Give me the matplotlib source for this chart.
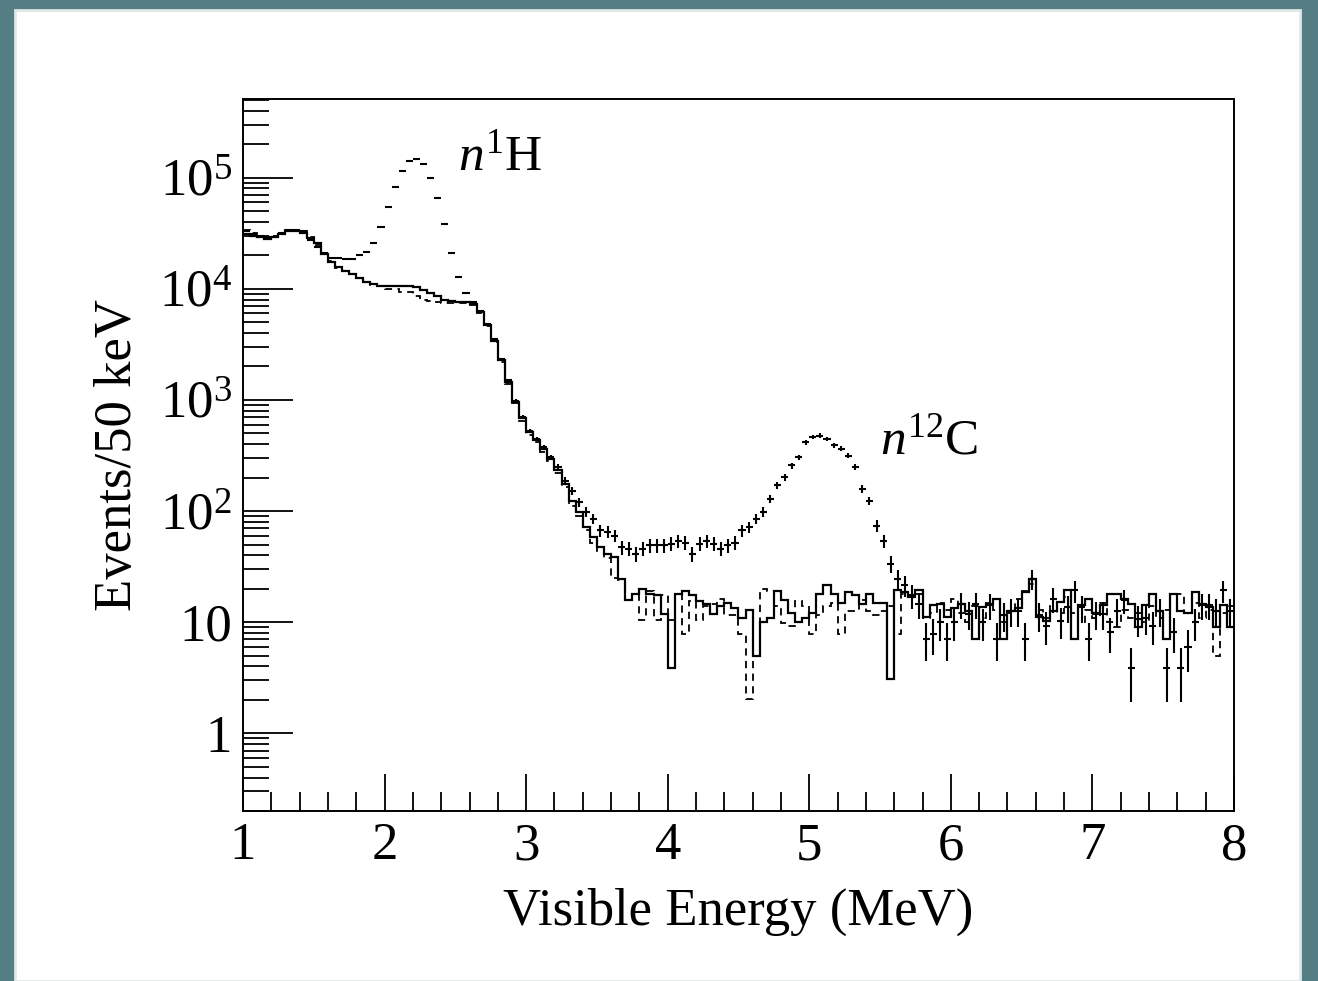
import numpy as np
import matplotlib
matplotlib.use('Agg')
import matplotlib.pyplot as plt
from matplotlib.ticker import MultipleLocator, LogLocator, FuncFormatter, NullFormatter
from matplotlib.patches import Rectangle

plt.rcParams['font.family'] = ['Liberation Serif', 'DejaVu Serif']
plt.rcParams['mathtext.fontset'] = 'custom'
plt.rcParams['mathtext.rm'] = 'Liberation Serif'
plt.rcParams['mathtext.it'] = 'Liberation Serif:italic'

# 50 keV bins from 1 to 8 MeV
edges = np.round(np.arange(1.0, 8.0001, 0.05), 3)
centers = edges[:-1] + 0.025

# solid histogram
solid = [
    3.1e4, 3.0e4, 2.9e4, 2.8e4, 2.9e4, 3.1e4, 3.3e4, 3.3e4, 3.2e4, 2.85e4,
    2.6e4, 2.07e4, 1.75e4, 1.57e4, 1.46e4, 1.37e4, 1.25e4, 1.16e4, 1.1e4, 1.07e4,
    1.07e4, 1.07e4, 1.06e4, 1.06e4, 1.04e4, 9.8e3, 9.2e3, 8.6e3, 8.0e3, 7.7e3,
    7.6e3, 7.6e3, 7.3e3, 6.2e3, 4.7e3, 3.4e3, 2.3e3, 1.45e3, 955, 685,
    513, 432, 363, 295, 235, 176, 124, 98, 72, 58,
    47, 41, 38.5, 24.6, 15.7, 18, 20, 18, 17.6, 11.9,
    3.9, 18, 19, 17.6, 15.5, 14.6, 11.9, 14, 15, 13.3,
    11, 13, 5.0, 10, 11, 19, 15.7, 12, 10, 11,
    12, 18, 21.8, 18, 15, 18.5, 17.6, 14.6, 18, 15,
    15, 3.1, 19.3, 18.5, 17, 19.3, 11.1, 14.2, 14.6, 11.1,
    13.3, 14.6, 12.7, 7.1, 13.6, 14.6, 16.2, 7.1, 12.7, 13.3,
    18.5, 24.6, 11.1, 10.3, 12.7, 15.2, 19.3, 7.1, 14.2, 16,
    12, 14.2, 18, 18, 16, 14.6, 9.0, 14.2, 18, 12.7,
    7.1, 18, 12.7, 12, 18.5, 14.6, 13.6, 9.0, 14.2, 9.0,
]

# dashed histogram
dashed = [
    3.4e4, 3.2e4, 3.0e4, 2.9e4, 3.0e4, 3.2e4, 3.4e4, 3.4e4, 3.3e4, 2.9e4,
    2.5e4, 2.1e4, 1.78e4, 1.55e4, 1.45e4, 1.36e4, 1.24e4, 1.15e4, 1.08e4, 1.05e4,
    1.0e4, 1.0e4, 9.4e3, 9.4e3, 8.6e3, 8.0e3, 7.8e3, 7.6e3, 7.5e3, 7.4e3,
    7.5e3, 7.5e3, 7.2e3, 6.0e3, 4.6e3, 3.3e3, 2.2e3, 1.4e3, 930, 650,
    480, 420, 340, 280, 220, 165, 112, 90, 68, 52,
    44, 38, 25, 24, 16, 18, 10.4, 19, 10.4, 17.6,
    10.4, 18, 7.9, 15.5, 10.4, 14, 14.6, 16.2, 11.5, 11.5,
    7.9, 2.04, 5.0, 20, 19, 14, 9.8, 9.3, 15.5, 14,
    7.9, 11.5, 14, 15, 7.9, 12.7, 12.5, 15.7, 12.5, 11.5,
    12.5, 14, 7.9, 18, 17, 18, 11, 12, 15, 13,
    16, 12, 10, 14, 11, 15, 13, 10, 12, 16,
    19, 22, 13, 11, 14, 12, 17, 12, 10, 13,
    11, 15, 10, 9, 13, 11, 12, 10, 14, 11,
    13, 18, 18, 12, 15, 11, 13, 5.0, 12, 14,
]

# data points (with n-H and n-C capture peaks)
data = [
    3.3e4, 3.1e4, 3.0e4, 2.9e4, 2.95e4, 3.2e4, 3.4e4, 3.4e4, 3.3e4, 2.77e4,
    2.37e4, 2.1e4, 1.9e4, 1.9e4, 1.85e4, 1.85e4, 2.0e4, 2.14e4, 2.6e4, 3.6e4,
    5.4e4, 8.2e4, 1.15e5, 1.41e5, 1.48e5, 1.32e5, 1.0e5, 6.5e4, 3.8e4, 2.1e4,
    1.27e4, 9.2e3, 7.6e3, 6.3e3, 4.8e3, 3.5e3, 2.35e3, 1.5e3, 980, 700,
    530, 445, 375, 305, 250, 188, 153, 120, 98, 85,
    67, 65, 60, 47, 46, 41, 46, 49, 49, 49,
    51, 54, 52, 41, 51, 54, 51, 46, 49, 52,
    67, 72, 85, 98, 129, 170, 202, 257, 305, 417,
    462, 478, 447, 389, 363, 316, 248, 159, 124, 74,
    54, 33.5, 24.6, 21.4, 17.4, 14.6, 7.1, 7.9, 10, 7.1,
    10, 14.6, 11.9, 14.6, 10, 14.2, 7.1, 11.6, 12.7, 12.7,
    7.1, 24.6, 11.6, 9.3, 16.2, 10.3, 13.6, 19.3, 13.6, 7.1,
    11.9, 11.9, 8.1, 12.7, 15.7, 3.9, 10.7, 11, 9.3, 12.7,
    3.9, 8.1, 3.9, 6.0, 10, 14.2, 14.2, 12.7, 19.3, 12.7,
]

fig = plt.figure(figsize=(13.18, 9.81), dpi=100, facecolor='#547e84')
fig.patches.append(Rectangle((15 / 1318, 0), 1285 / 1318, 971 / 981,
                             transform=fig.transFigure, facecolor='white',
                             edgecolor='#dfe8e8', lw=2, zorder=-10))
ax = fig.add_axes([243 / 1318, 1 - 811 / 981, 991 / 1318, 712 / 981])
ax.set_zorder(5)

ax.stairs(solid, edges, baseline=None, color='black', lw=1.6)
ax.stairs(dashed, edges, baseline=None, color='black', lw=1.3, linestyle=(0, (4, 3)))
ax.errorbar(centers, data, xerr=0.025, yerr=np.sqrt(data), fmt='none',
            ecolor='black', elinewidth=1.5, capsize=0)

ax.set_yscale('log')
ax.set_xlim(1, 8)
ax.set_ylim(0.2, 5.1e5)

ax.xaxis.set_major_locator(MultipleLocator(1))
ax.xaxis.set_minor_locator(MultipleLocator(0.2))
ax.yaxis.set_major_locator(LogLocator(base=10, numticks=20))
ax.yaxis.set_minor_locator(LogLocator(base=10, subs=np.arange(2, 10), numticks=20))
ax.yaxis.set_minor_formatter(NullFormatter())


def ylab(v, pos):
    if v == 1:
        return '1'
    if v == 10:
        return '10'
    return '$10^{%d}$' % int(round(np.log10(v)))


ax.yaxis.set_major_formatter(FuncFormatter(ylab))

ax.tick_params(which='both', direction='in', top=False, right=False, width=1.3,
               labelsize=38, colors='black')
ax.tick_params(axis='y', which='major', length=36, pad=8)
ax.tick_params(axis='y', which='minor', length=19)
ax.tick_params(axis='x', which='major', length=27, pad=8)
ax.tick_params(axis='x', which='minor', length=14)
for s in ax.spines.values():
    s.set_linewidth(1.4)

ax.set_xlabel('Visible Energy (MeV)', fontsize=38, labelpad=13)
ax.set_ylabel('Events/50 keV', fontsize=38, labelpad=12)

ax.text(2.517, 1.16e5, '$n^{1}$H', fontsize=37, va='baseline')
ax.text(5.5, 330, '$n^{12}$C', fontsize=37, va='baseline')

fig.savefig('out.png', dpi=100, facecolor=fig.get_facecolor())
